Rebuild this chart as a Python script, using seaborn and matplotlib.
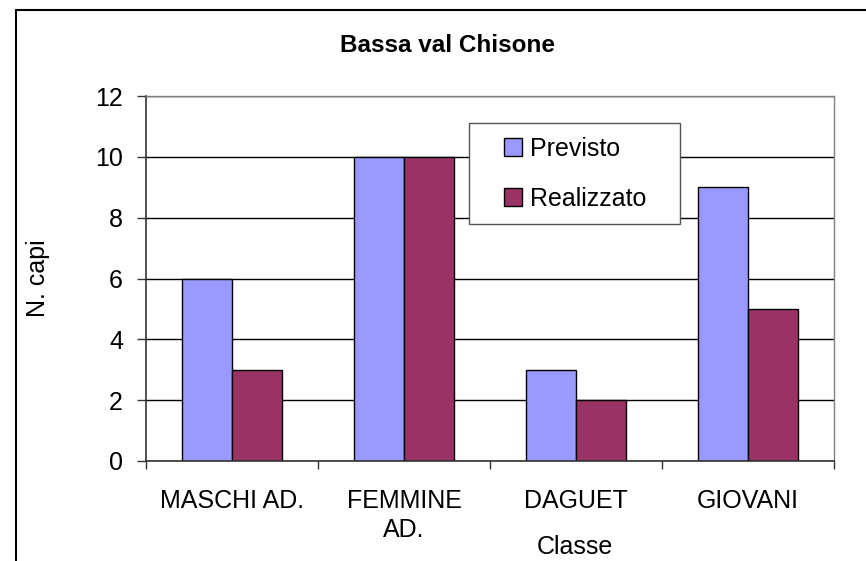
import pandas as pd
import numpy as np
import matplotlib.pyplot as plt
import seaborn as sns

# values
classi = ['MASCHI AD.', 'FEMMINE\nAD.', 'DAGUET', 'GIOVANI']
previsto = [6, 10, 3, 9]
realizzato = [3, 10, 2, 5]
serie = ['Previsto', 'Realizzato']
colori = ['#9999FF', '#993366']
y_ticks = [0, 2, 4, 6, 8, 10, 12]

df = pd.DataFrame({
    'Classe': classi * 2,
    'N. capi': previsto + realizzato,
    'Serie': [serie[0]] * len(classi) + [serie[1]] * len(classi),
})

sns.set_style('white', {'text.color': 'black', 'axes.labelcolor': 'black',
                        'xtick.color': 'black', 'ytick.color': 'black'})
plt.rcParams['font.family'] = ['Liberation Sans', 'DejaVu Sans']

W, H = 866, 561
fig = plt.figure(figsize=(W / 100, H / 100), dpi=100)
ax = fig.add_axes([146 / W, 1 - 461 / H, (834 - 146) / W, (461 - 96) / H])

sns.barplot(data=df, x='Classe', y='N. capi', hue='Serie', palette=colori,
            width=0.58, gap=0, edgecolor='black', linewidth=1, ax=ax,
            saturation=1, errorbar=None)

ax.set_ylim(0, 12)
ax.set_xlim(-0.5, len(classi) - 0.5)
ax.set_yticks(y_ticks)
ax.yaxis.grid(True, color='black', linewidth=1)
ax.set_axisbelow(True)

for s in ['left', 'bottom']:
    ax.spines[s].set_color('#333333')
    ax.spines[s].set_linewidth(1.2)
for s in ['top', 'right']:
    ax.spines[s].set_color('#808080')
    ax.spines[s].set_linewidth(1)

ax.tick_params(axis='y', which='major', left=True, length=6.5, width=1,
               color='#333333', labelcolor='black', labelsize=18, pad=10)
ax.tick_params(axis='x', which='major', length=0, labelcolor='black', labelsize=18, pad=20)
for lab in ax.get_xticklabels():
    lab.set_linespacing(1.3)
ax.set_xticks(np.arange(len(classi) + 1) - 0.5, minor=True)
ax.tick_params(axis='x', which='minor', bottom=True, length=6, width=1, color='#333333')

ax.set_xlabel('Classe', fontsize=18, color='black')
ax.xaxis.set_label_coords((575 - 146) / 688, (461 - 535) / 365)
ax.set_ylabel('N. capi', fontsize=18, color='black')
ax.yaxis.set_label_coords((50 - 146) / 688, 0.5)

fig.text(447 / W, 1 - 45 / H, 'Bassa val Chisone', ha='center', va='center',
         fontsize=17.5, fontweight='bold', color='black')

# legend box drawn separately so its padding can match the reference
box = plt.Rectangle((469 / W, 1 - 224 / H), (680 - 469) / W, (224 - 123) / H,
                    transform=fig.transFigure, facecolor='white', edgecolor='#555555',
                    linewidth=1, zorder=4, clip_on=False)
ax.add_patch(box)
leg = ax.legend(loc='upper left', bbox_to_anchor=(504 / W, 1 - 137 / H),
                bbox_transform=fig.transFigure, borderaxespad=0, borderpad=0,
                fontsize=18, frameon=False,
                handlelength=0.72, handleheight=0.72, handletextpad=0.3,
                labelspacing=1.03)
leg.set_zorder(5)
for t in leg.get_texts():
    t.set_color('black')

# outer chart border, cut off at the right and bottom like the reference
fig.add_artist(plt.Rectangle((16 / W, -0.1), 1.2, 1.1 - 10 / H, transform=fig.transFigure,
                             fill=False, edgecolor='black', linewidth=1.5))

fig.savefig('out.png', dpi=100)
